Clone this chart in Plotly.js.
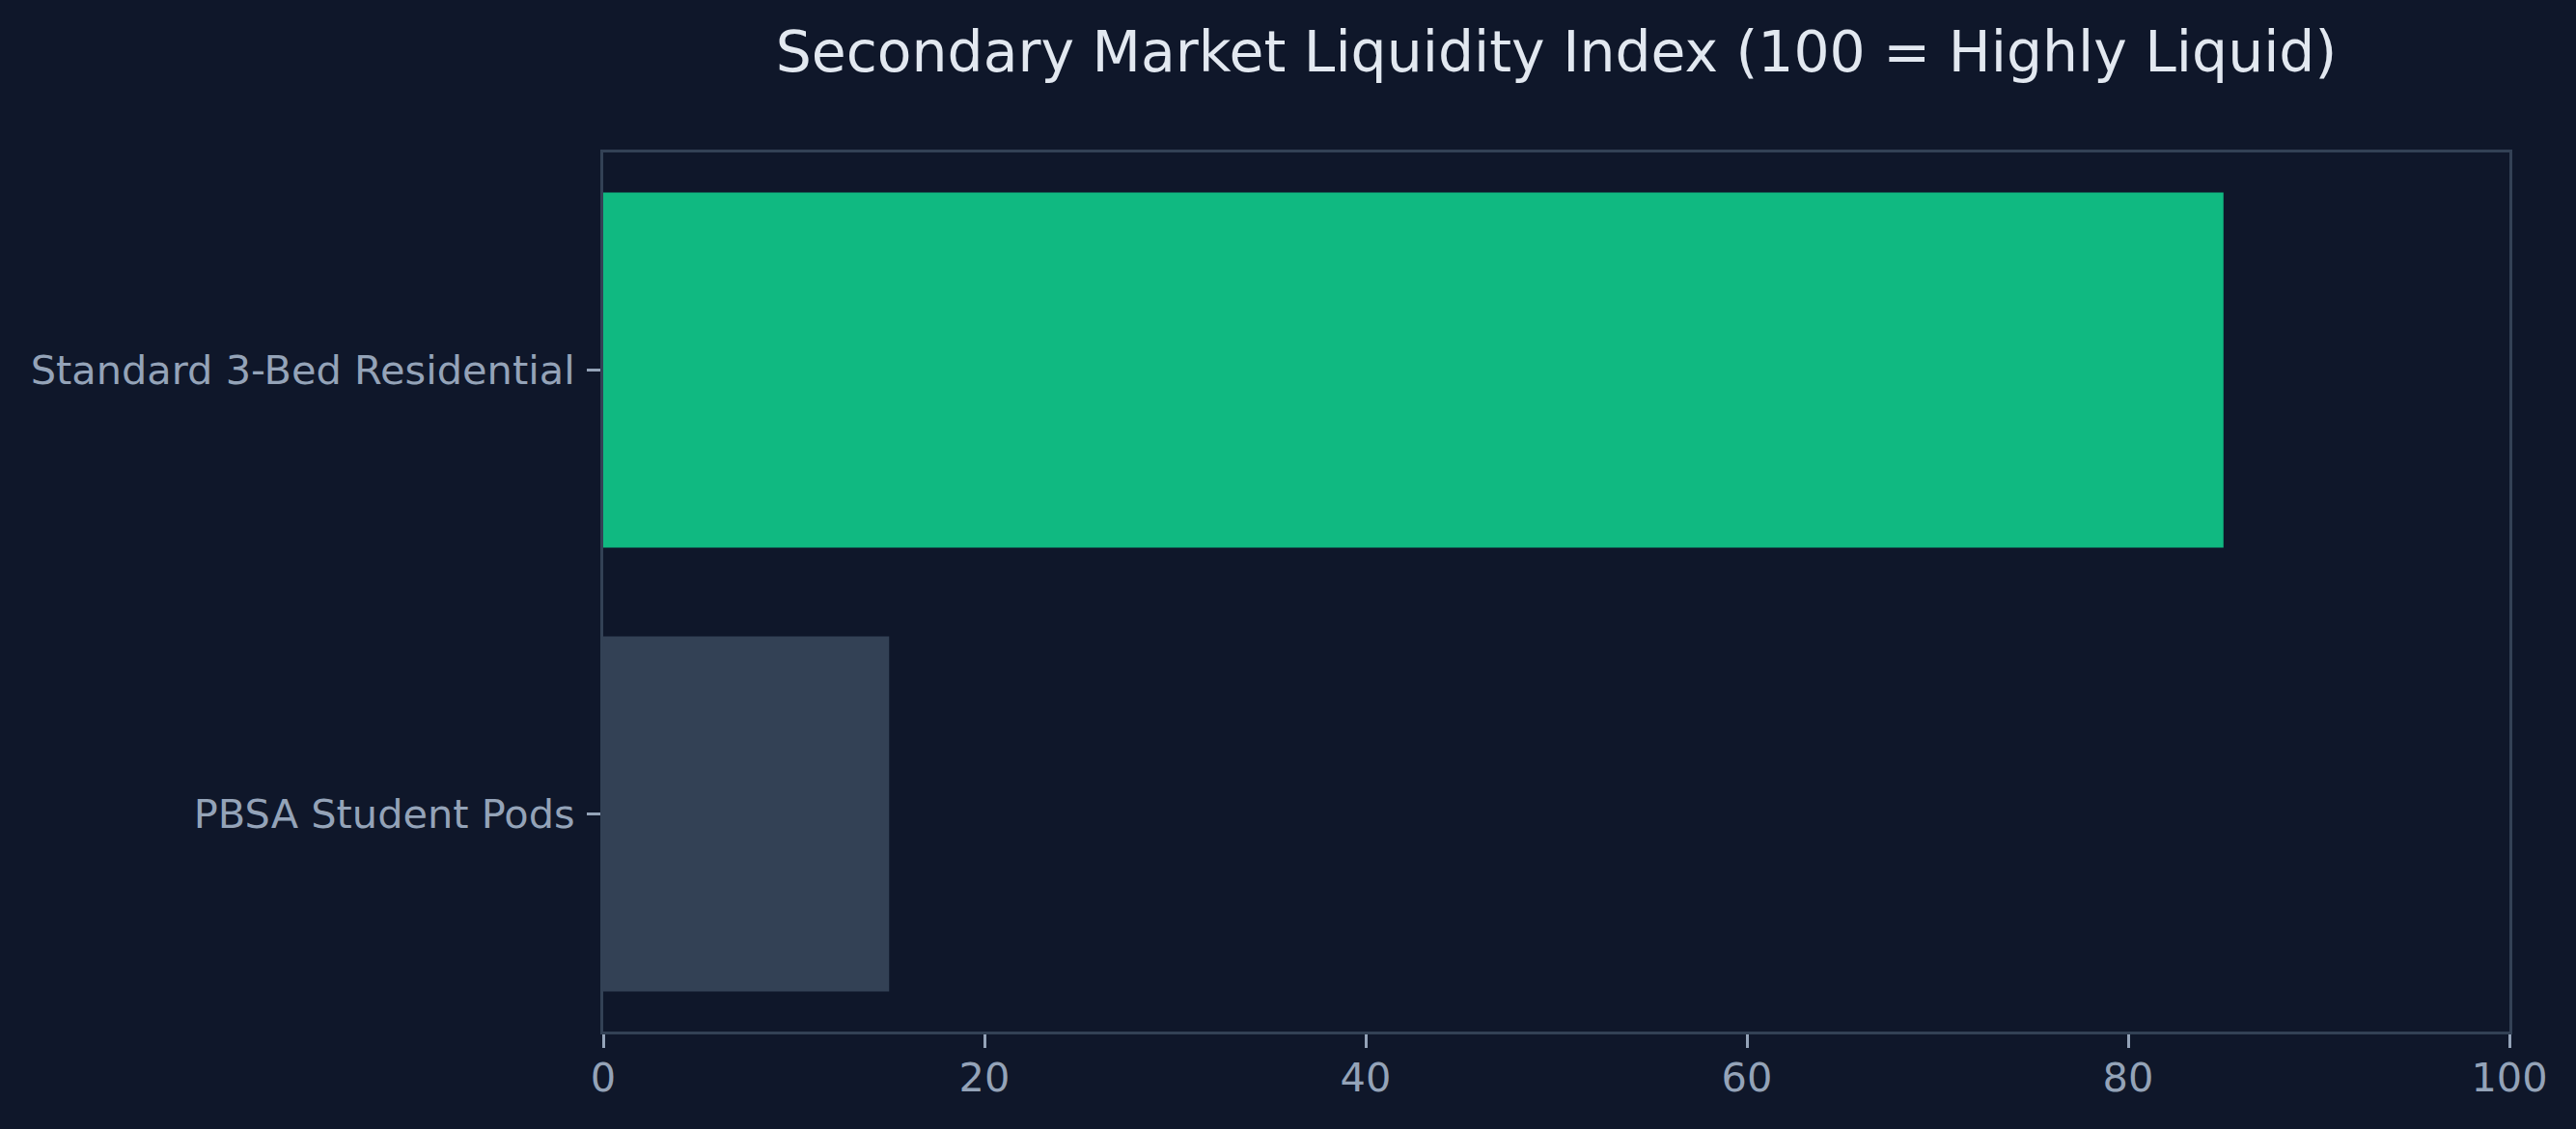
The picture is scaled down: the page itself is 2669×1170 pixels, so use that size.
<!DOCTYPE html>
<html>
<head>
<meta charset="utf-8">
<script src="https://cdn.plot.ly/plotly-3.0.1.min.js"></script>
<style>
  html, body { margin: 0; padding: 0; background: #0f172a; }
  #chart { width: 2669px; height: 1170px; }
</style>
</head>
<body>
<div id="chart"></div>
<script>
const categories = ['Standard 3-Bed Residential', 'PBSA Student Pods'];
const liquidityValues = [85, 15];
const barColors = ['#10b981', '#334155'];
const xTickValues = [0, 20, 40, 60, 80, 100];
const xTickLabels = ['0', '20', '40', '60', '80', '100'];

const trace = {
  type: 'bar',
  orientation: 'h',
  x: liquidityValues,
  y: categories,
  marker: { color: barColors, line: { width: 0 } },
  hoverinfo: 'x+y'
};

const fontFamily = '"DejaVu Sans", "Liberation Sans", sans-serif';

const layout = {
  width: 2669,
  height: 1170,
  paper_bgcolor: '#0f172a',
  plot_bgcolor: '#0f172a',
  margin: { l: 625, r: 69, t: 158, b: 101, pad: 0 },
  bargap: 0.2,
  showlegend: false,
  title: {
    text: 'Secondary Market Liquidity Index (100 = Highly Liquid)',
    font: { family: fontFamily, size: 58.4, color: '#e2e8f0' },
    x: 0.5, xanchor: 'center', xref: 'paper',
    y: 1 - 54 / 1170, yanchor: 'middle', yref: 'container'
  },
  xaxis: {
    range: [0, 100],
    tickvals: xTickValues,
    ticktext: xTickLabels,
    showgrid: false,
    zeroline: false,
    showline: true,
    linecolor: '#334155',
    linewidth: 3,
    mirror: true,
    ticks: 'outside',
    ticklen: 14,
    tickwidth: 3,
    tickcolor: '#94a3b8',
    ticklabelstandoff: -5,
    tickfont: { family: fontFamily, size: 41.5, color: '#94a3b8' },
    fixedrange: true
  },
  yaxis: {
    type: 'category',
    range: [1.49, -0.49],
    showgrid: false,
    zeroline: false,
    showline: true,
    linecolor: '#334155',
    linewidth: 3,
    mirror: true,
    ticks: 'outside',
    ticklen: 14,
    tickwidth: 3,
    tickcolor: '#94a3b8',
    ticklabelstandoff: 4,
    tickfont: { family: fontFamily, size: 41.5, color: '#94a3b8' },
    fixedrange: true
  }
};

Plotly.newPlot('chart', [trace], layout, { displayModeBar: false, staticPlot: true });
</script>
</body>
</html>
